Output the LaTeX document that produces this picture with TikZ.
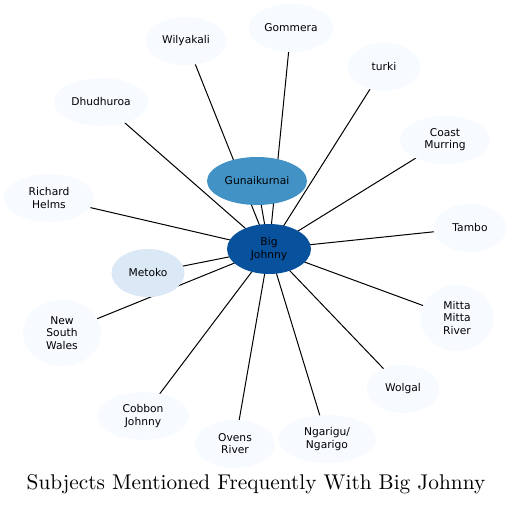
\documentclass[tikz,border=0pt]{standalone}
\usepackage{fontspec}
\newfontfamily\nodefont{DejaVu Sans}
\newfontfamily\titlefont{lmroman10-regular.otf}
\usetikzlibrary{shapes.geometric,backgrounds}

\definecolor{blueA}{HTML}{F7FBFF}
\definecolor{blueB}{HTML}{DBE9F6}
\definecolor{blueC}{HTML}{4292C6}
\definecolor{blueD}{HTML}{08519C}

\tikzset{
  subj/.style={ellipse, fill=blueA, inner sep=0pt, align=center,
    minimum width=#1, minimum height=48pt,
    font=\nodefont\fontsize{10.7}{12.2}\selectfont},
  subj/.default=80pt,
  link/.style={line width=1pt, black}
}

\begin{document}
\begin{tikzpicture}[x=1pt, y=-1pt]
\useasboundingbox (0,0) rectangle (512,506);
% nodes
\node[subj=84pt, fill=blueD, minimum height=50pt] (big) at (269,249) {Big\\Johnny};
\node[subj=100pt, fill=blueC] (guna) at (257,181) {Gunaikurnai};
\node[subj=73pt, fill=blueB] (metoko) at (148,273) {Metoko};
\node[subj=85pt] (gommera) at (291,28) {Gommera};
\node[subj=81pt] (wilya) at (186,41) {Wilyakali};
\node[subj=73pt] (turki) at (384,67) {turki};
\node[subj=94pt] (dhudh) at (101,102) {Dhudhuroa};
\node[subj=90pt] (coast) at (445,140) {Coast\\Murring};
\node[subj=90pt] (helms) at (49,198) {Richard\\Helms};
\node[subj=73pt] (tambo) at (470,228) {Tambo};
\node[subj=73pt, minimum height=66pt] (mitta) at (457,318) {Mitta\\Mitta\\River};
\node[subj=78pt, minimum height=66pt] (nsw) at (62,333) {New\\South\\Wales};
\node[subj=73pt] (wolgal) at (403,389) {Wolgal};
\node[subj=92pt] (cobbon) at (143,416) {Cobbon\\Johnny};
\node[subj=80pt] (ovens) at (235,444) {Ovens\\River};
\node[subj=98pt] (ngarigu) at (327,439) {Ngarigu/\\Ngarigo};
% links, behind the nodes
\begin{pgfonlayer}{background}
\foreach \n in {guna,metoko,gommera,wilya,turki,dhudh,coast,helms,tambo,mitta,nsw,wolgal,cobbon,ovens,ngarigu}
  \draw[link] (big.center) -- (\n.center);
\end{pgfonlayer}
% title
\node[font=\titlefont\fontsize{21.3}{24}\selectfont] (title) at (256,484) {Subjects Mentioned Frequently With Big Johnny};
\end{tikzpicture}
\end{document}
